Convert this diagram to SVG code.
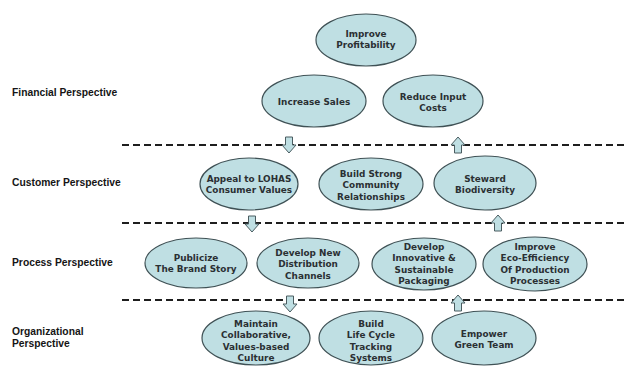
<svg xmlns="http://www.w3.org/2000/svg" width="628" height="366" viewBox="0 0 628 366">
<style>
.bg{fill:#ffffff}
.lbl{font-family:"Liberation Sans",Arial,sans-serif;font-weight:bold;font-size:10.3px;fill:#151515}
.node ellipse{fill:#bfdfe3;stroke:#3f5155;stroke-width:1.2}
.node text{font-family:"DejaVu Sans",Verdana,sans-serif;font-weight:bold;font-size:8.9px;fill:#2b3033;text-anchor:middle}
.dash{stroke:#1e1e1e;stroke-width:2;stroke-dasharray:7 4;fill:none}
.arr{fill:#bfdfe3;stroke:#4a5c60;stroke-width:1;stroke-linejoin:miter}
</style>
<rect class="bg" x="0" y="0" width="628" height="366"/>
<g id="labels">
<text class="lbl" x="12" y="96">Financial Perspective</text>
<text class="lbl" x="12" y="186">Customer Perspective</text>
<text class="lbl" x="12" y="266">Process Perspective</text>
<text class="lbl" x="12" y="335">Organizational</text>
<text class="lbl" x="12" y="347">Perspective</text>
</g>
<g id="connectors">
<line class="dash" x1="122" y1="145" x2="628" y2="145"/>
<line class="dash" x1="122" y1="223" x2="628" y2="223"/>
<line class="dash" x1="122" y1="300" x2="628" y2="300"/>
<path class="arr" d="M285.5,137 h7 v8 h3.5 l-7,8 l-7,-8 h3.5 z"/>
<path class="arr" d="M454.5,153 h7 v-8 h3.5 l-7,-8 l-7,8 h3.5 z"/>
<path class="arr" d="M248.5,216 h7 v8 h3.5 l-7,8 l-7,-8 h3.5 z"/>
<path class="arr" d="M494.5,231 h7 v-8 h3.5 l-7,-8 l-7,8 h3.5 z"/>
<path class="arr" d="M286.5,296 h7 v8 h3.5 l-7,8 l-7,-8 h3.5 z"/>
<path class="arr" d="M454.5,311 h7 v-8 h3.5 l-7,-8 l-7,8 h3.5 z"/>
</g>
<g id="improve-profitability" class="node"><ellipse cx="366" cy="40" rx="50" ry="26"/><text x="366" y="37">Improve</text><text x="366" y="48.3">Profitability</text></g>
<g id="increase-sales" class="node"><ellipse cx="314" cy="101" rx="52" ry="26"/><text x="314" y="105">Increase Sales</text></g>
<g id="reduce-input-costs" class="node"><ellipse cx="433" cy="101" rx="50" ry="26"/><text x="433" y="100">Reduce Input</text><text x="433" y="111.3">Costs</text></g>
<g id="appeal-lohas" class="node"><ellipse cx="249" cy="184" rx="49" ry="26"/><text x="249" y="182">Appeal to LOHAS</text><text x="249" y="193.3">Consumer Values</text></g>
<g id="build-community" class="node"><ellipse cx="371" cy="184" rx="52" ry="26"/><text x="371" y="177">Build Strong</text><text x="371" y="188.3">Community</text><text x="371" y="199.6">Relationships</text></g>
<g id="steward-biodiversity" class="node"><ellipse cx="485" cy="183" rx="51" ry="27"/><text x="485" y="182">Steward</text><text x="485" y="193.3">Biodiversity</text></g>
<g id="publicize-brand" class="node"><ellipse cx="196" cy="263" rx="51" ry="25"/><text x="196" y="261">Publicize</text><text x="196" y="272.3">The Brand Story</text></g>
<g id="distribution-channels" class="node"><ellipse cx="308" cy="263" rx="51" ry="25"/><text x="308" y="256">Develop New</text><text x="308" y="267.3">Distribution</text><text x="308" y="278.6">Channels</text></g>
<g id="sustainable-packaging" class="node"><ellipse cx="424" cy="264" rx="52" ry="26"/><text x="424" y="250">Develop</text><text x="424" y="261.3">Innovative &amp;</text><text x="424" y="272.6">Sustainable</text><text x="424" y="283.9">Packaging</text></g>
<g id="eco-efficiency" class="node"><ellipse cx="535" cy="264" rx="52" ry="27"/><text x="535" y="250">Improve</text><text x="535" y="261.3">Eco-Efficiency</text><text x="535" y="272.6">Of Production</text><text x="535" y="283.9">Processes</text></g>
<g id="collaborative-culture" class="node"><ellipse cx="256" cy="338" rx="54" ry="27"/><text x="256" y="327">Maintain</text><text x="256" y="338.3">Collaborative,</text><text x="256" y="349.6">Values-based</text><text x="256" y="360.9">Culture</text></g>
<g id="life-cycle-tracking" class="node"><ellipse cx="371" cy="338" rx="52" ry="27"/><text x="371" y="327">Build</text><text x="371" y="338.3">Life Cycle</text><text x="371" y="349.6">Tracking</text><text x="371" y="360.9">Systems</text></g>
<g id="empower-green-team" class="node"><ellipse cx="484" cy="338" rx="52" ry="27"/><text x="484" y="337">Empower</text><text x="484" y="348.3">Green Team</text></g>
</svg>
